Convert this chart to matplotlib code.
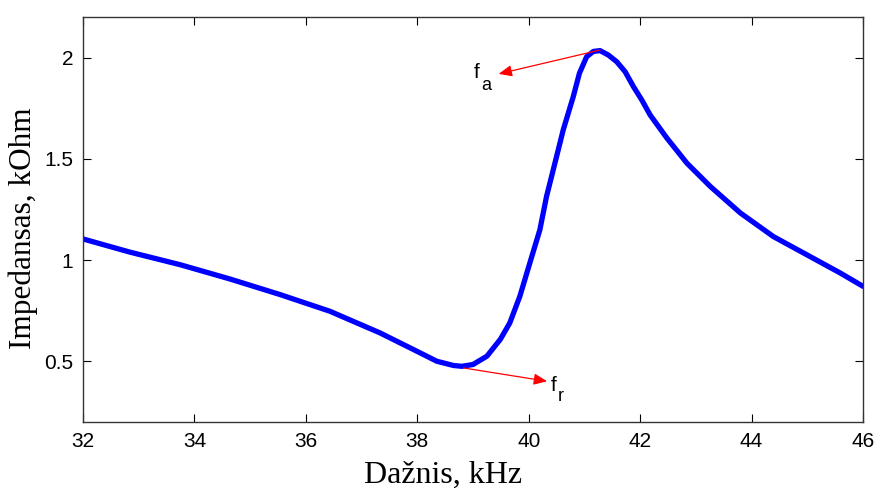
import numpy as np
import matplotlib.pyplot as plt

# Impedance curve (kHz, kOhm)
freq_khz = [32.0, 32.84, 33.74, 34.64, 35.54, 36.43, 37.33, 37.93, 38.35, 38.65,
            38.80, 39.00, 39.25, 39.49, 39.66, 39.84, 40.02, 40.20, 40.32, 40.47,
            40.62, 40.80, 40.91, 41.04, 41.16, 41.28, 41.43, 41.58, 41.73, 41.88,
            42.03, 42.18, 42.48, 42.84, 43.26, 43.80, 44.39, 44.99, 45.59, 46.0]
impedance = [1.104, 1.039, 0.977, 0.906, 0.829, 0.747, 0.640, 0.558, 0.500, 0.479,
             0.475, 0.484, 0.525, 0.608, 0.689, 0.820, 0.985, 1.149, 1.314, 1.478,
             1.643, 1.807, 1.922, 2.004, 2.030, 2.034, 2.012, 1.979, 1.930, 1.856,
             1.790, 1.716, 1.602, 1.478, 1.363, 1.232, 1.116, 1.026, 0.936, 0.870]

# resonance / antiresonance markers: (curve point, arrow head)
fa_point = (41.28, 2.037)
fa_head = (39.46, 1.919)
fr_point = (38.83, 0.467)
fr_head = (40.33, 0.401)

xticks = [32, 34, 36, 38, 40, 42, 44, 46]
yticks = [0.5, 1, 1.5, 2]

fig = plt.figure(figsize=(8.76, 4.88), dpi=100)
ax = fig.add_axes([83 / 876, 1 - 422 / 488, 780 / 876, 405 / 488])

ax.plot(freq_khz, impedance, color='#0000ff', linewidth=3.8,
        solid_capstyle='round', solid_joinstyle='round')

arrow = dict(arrowstyle='-|>,head_length=0.4,head_width=0.17', color='red', lw=0.9,
             mutation_scale=20, shrinkA=0, shrinkB=0)
ax.annotate('', xy=fa_head, xytext=fa_point, arrowprops=arrow)
ax.annotate('', xy=fr_head, xytext=fr_point, arrowprops=arrow)

sans = 'Liberation Sans'
ax.text(39.02, 1.899, 'f', fontsize=15, family=sans, ha='left', va='baseline')
ax.text(39.15, 1.84, 'a', fontsize=13, family=sans, ha='left', va='baseline')
ax.text(40.40, 0.355, 'f', fontsize=15, family=sans, ha='left', va='baseline')
ax.text(40.53, 0.303, 'r', fontsize=13, family=sans, ha='left', va='baseline')

ax.set_xlim(32, 46)
ax.set_ylim(0.2, 2.2)
ax.set_xticks(xticks)
ax.set_yticks(yticks)
ax.set_yticklabels(['0.5', '1', '1.5', '2'])
ax.tick_params(direction='in', length=6, width=0.8, top=True, right=True,
               labelsize=15, colors='black', pad=7)
for lab in ax.get_xticklabels() + ax.get_yticklabels():
    lab.set_family(sans)
for s in ax.spines.values():
    s.set_linewidth(1.0)
    s.set_color('#333333')

ax.set_xlabel('Dažnis, kHz', family='Liberation Serif', fontsize=23)
ax.set_ylabel('Impedansas, kOhm', family='Liberation Serif', fontsize=22.5)
ax.xaxis.label.set_va('baseline')
ax.xaxis.set_label_coords(0.462, -0.149)
ax.yaxis.label.set_va('center')
ax.yaxis.set_label_coords(-0.076, 0.478)

fig.savefig('out.png', dpi=100)
